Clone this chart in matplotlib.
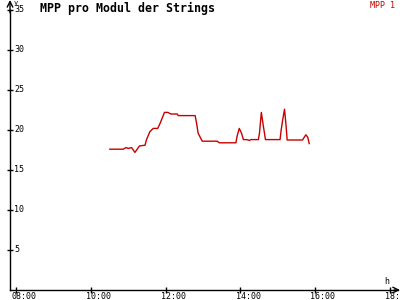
import matplotlib
matplotlib.use('Agg')
import matplotlib.pyplot as plt

# MPP Modul 1, Uhrzeit in Stunden (dezimal)
stunden = [10.51, 10.87, 10.94, 11.00, 11.09, 11.18, 11.30, 11.45, 11.49, 11.58,
           11.67, 11.79, 11.85, 11.97, 12.06, 12.14, 12.31, 12.34, 12.79, 12.83,
           12.87, 12.98, 13.38, 13.44, 13.88, 13.91, 13.97, 14.03, 14.08, 14.17,
           14.24, 14.28, 14.48, 14.51, 14.56, 14.61, 14.67, 15.06, 15.09, 15.13,
           15.18, 15.22, 15.25, 15.66, 15.75, 15.80, 15.84]
mpp1 = [17.6, 17.6, 17.8, 17.7, 17.8, 17.2, 18.0, 18.1, 18.8, 19.8,
        20.2, 20.2, 20.8, 22.2, 22.2, 22.0, 22.0, 21.8, 21.8, 20.8,
        19.6, 18.6, 18.6, 18.4, 18.4, 19.2, 20.2, 19.6, 18.8, 18.8,
        18.7, 18.8, 18.8, 19.6, 22.2, 20.6, 18.8, 18.8, 20.0, 21.25,
        22.6, 20.6, 18.75, 18.75, 19.4, 19.1, 18.3]

y_ticks = [5, 10, 15, 20, 25, 30, 35]
x_ticks = [8, 10, 12, 14, 16, 18]
x_labels = ['08:00', '10:00', '12:00', '14:00', '16:00', '18:00']

titel = 'MPP pro Modul der Strings'
legende = 'MPP 1'
rot = '#c80000'
mono = 'DejaVu Sans Mono'

fig = plt.figure(figsize=(4, 3), dpi=100)
ax = fig.add_axes([10 / 400, 10 / 300, 388 / 400, 280 / 300])
ax.set_xlim(8 - 6 / 37.4, 8 + 382 / 37.4)
ax.set_ylim(0, 35)

ax.plot(stunden, mpp1, color=rot, lw=1.0)

for s in ['top', 'right']:
    ax.spines[s].set_visible(False)
for s in ['left', 'bottom']:
    ax.spines[s].set_color('black')
    ax.spines[s].set_linewidth(1)

# Pfeile an den Achsen
ax.annotate('', xy=(0, 1 + 10 / 280), xytext=(0, 0.99), xycoords='axes fraction',
            arrowprops=dict(arrowstyle='->', lw=1, color='black', shrinkA=0, shrinkB=0))
ax.annotate('', xy=(1.005, 0), xytext=(0.99, 0), xycoords='axes fraction',
            arrowprops=dict(arrowstyle='->', lw=1, color='black', shrinkA=0, shrinkB=0))

ax.set_yticks(y_ticks)
ax.set_yticklabels([])
ax.set_xticks(x_ticks)
ax.set_xticklabels([])
ax.tick_params(direction='inout', length=5, width=1, color='black')

for v in y_ticks:
    ax.annotate(str(v), xy=(0, v), xycoords=('axes fraction', 'data'),
                xytext=(3, 0), textcoords='offset points', ha='left', va='center',
                fontsize=6, family=mono, annotation_clip=False)
for v, lab in zip(x_ticks, x_labels):
    ax.annotate(lab, xy=(v, 0), xycoords=('data', 'axes fraction'),
                xytext=(-3.5, -1.5), textcoords='offset points', ha='left', va='top',
                fontsize=6, family=mono, annotation_clip=False)

fig.text(14 / 400, 1 - 3 / 300, 'y', fontsize=5, family=mono, va='center', ha='left')
fig.text(384 / 400, 1 - 281 / 300, 'h', fontsize=6, family=mono, va='center', ha='left')
fig.text(40 / 400, 1 - 8 / 300, titel, fontsize=8.4, family=mono, fontweight='bold',
         va='center', ha='left')
fig.text(395 / 400, 1 - 6 / 300, legende, fontsize=6, family=mono, color=rot,
         va='center', ha='right')

fig.savefig('out.png', dpi=100)
